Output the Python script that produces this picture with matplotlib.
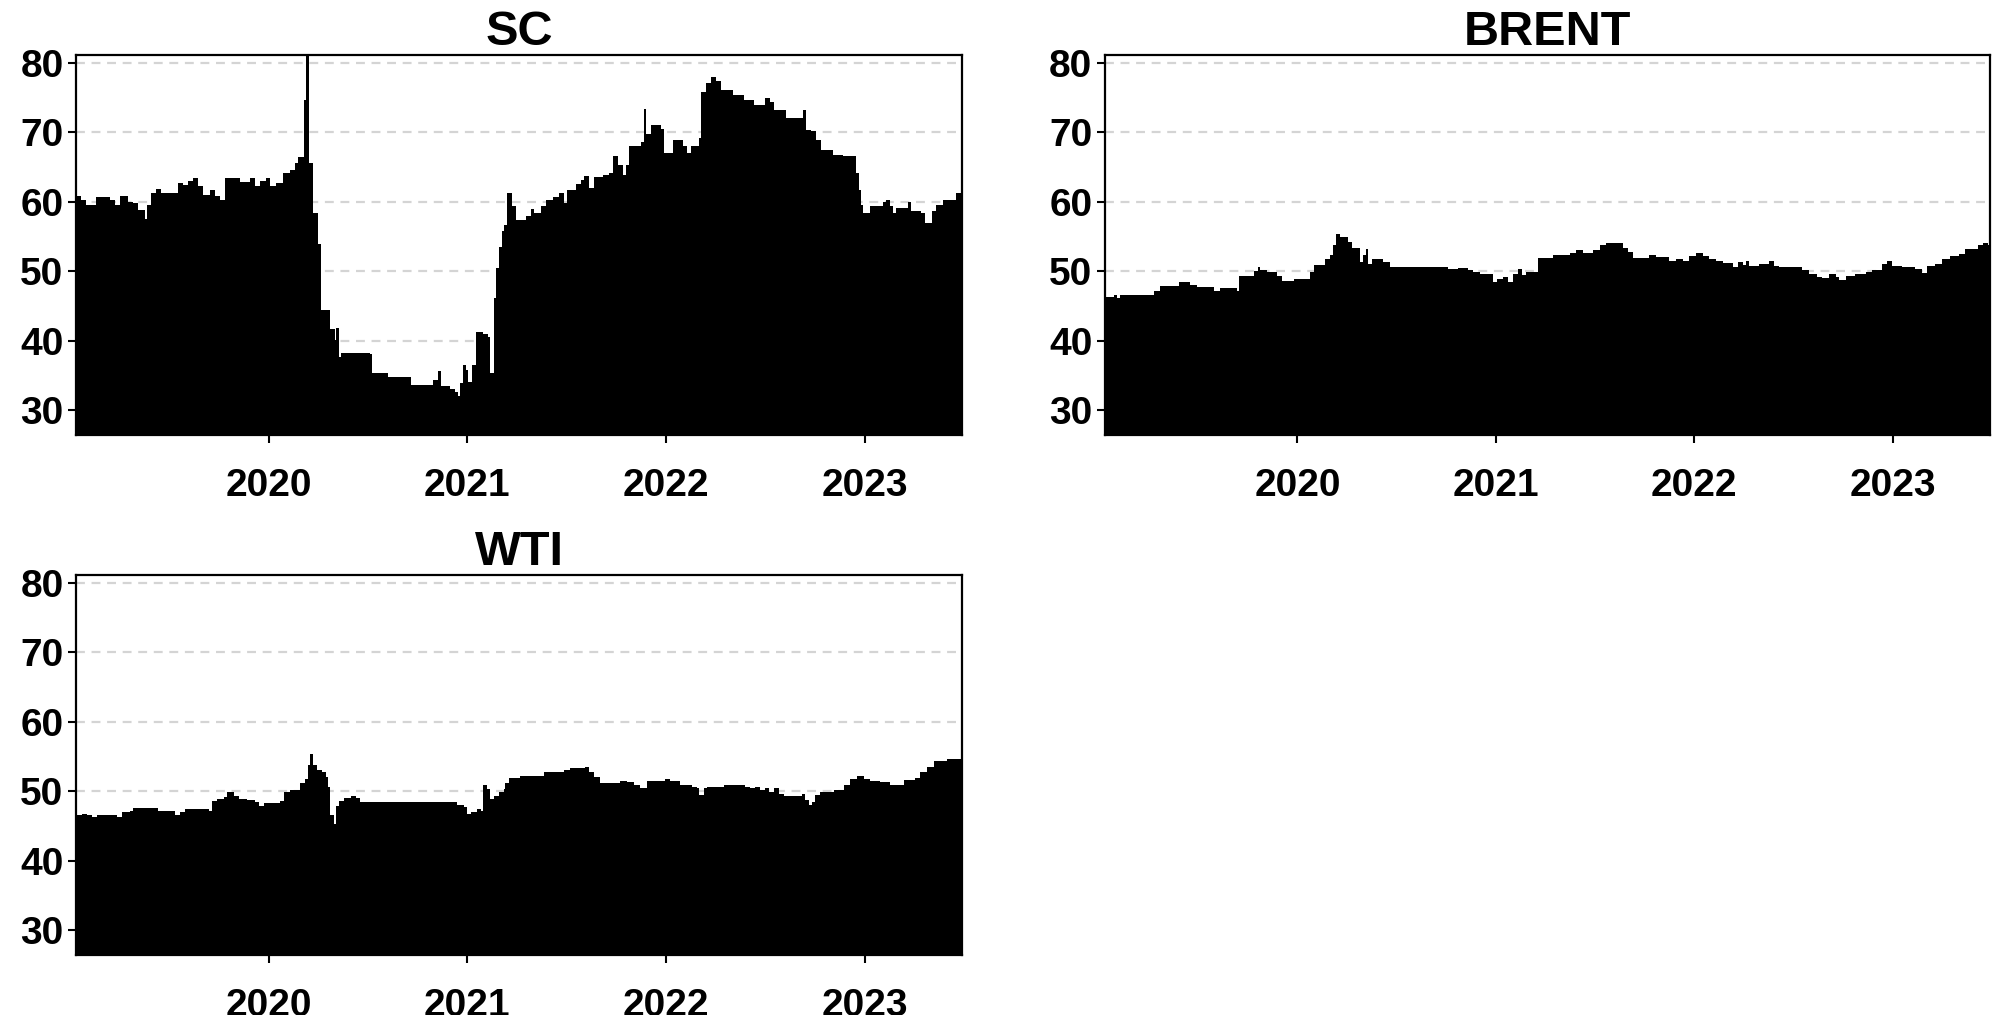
import numpy as np
import matplotlib.pyplot as plt

plt.rcParams['font.family'] = ['Liberation Sans', 'DejaVu Sans']
plt.rcParams['font.weight'] = 'bold'

# decimal year, price
sc_t = [2019.029, 2019.057, 2019.079, 2019.133, 2019.200, 2019.225, 2019.250, 2019.292, 2019.317, 2019.342,
        2019.376, 2019.388, 2019.409, 2019.435, 2019.460, 2019.518, 2019.544, 2019.569, 2019.594, 2019.619,
        2019.644, 2019.669, 2019.703, 2019.728, 2019.753, 2019.779, 2019.854, 2019.888, 2019.904, 2019.930,
        2019.955, 2019.988, 2020.005, 2020.039, 2020.072, 2020.106, 2020.131, 2020.148, 2020.176, 2020.190,
        2020.203, 2020.223, 2020.248, 2020.265, 2020.310, 2020.332, 2020.341, 2020.354, 2020.366, 2020.508,
        2020.522, 2020.601, 2020.718, 2020.827, 2020.852, 2020.869, 2020.911, 2020.936, 2020.953, 2020.965,
        2020.978, 2020.995, 2021.003, 2021.025, 2021.045, 2021.079, 2021.104, 2021.112, 2021.133, 2021.146,
        2021.159, 2021.173, 2021.185, 2021.202, 2021.218, 2021.227, 2021.244, 2021.294, 2021.319, 2021.336,
        2021.370, 2021.395, 2021.429, 2021.462, 2021.487, 2021.504, 2021.546, 2021.571, 2021.588, 2021.613,
        2021.639, 2021.681, 2021.714, 2021.734, 2021.756, 2021.782, 2021.798, 2021.815, 2021.874, 2021.891,
        2021.899, 2021.924, 2021.975, 2021.992, 2022.034, 2022.084, 2022.104, 2022.126, 2022.168, 2022.176,
        2022.202, 2022.227, 2022.252, 2022.277, 2022.336, 2022.395, 2022.445, 2022.496, 2022.521, 2022.546,
        2022.605, 2022.672, 2022.689, 2022.703, 2022.731, 2022.756, 2022.782, 2022.840, 2022.891, 2022.941,
        2022.955, 2022.971, 2022.983, 2022.992, 2023.025, 2023.092, 2023.109, 2023.126, 2023.143, 2023.160,
        2023.218, 2023.235, 2023.286, 2023.303, 2023.341, 2023.361, 2023.395, 2023.462, 2023.490]
sc_v = [60.8, 60.3, 59.5, 60.7, 60.2, 59.5, 60.8, 60.0, 59.8, 58.8,
        57.5, 59.5, 61.2, 61.8, 61.2, 61.3, 62.7, 62.4, 62.9, 63.4,
        62.2, 61.0, 61.6, 60.8, 60.3, 63.4, 62.8, 62.8, 63.4, 62.3,
        62.9, 63.4, 62.2, 62.7, 64.1, 64.6, 65.5, 66.4, 74.6, 82.0,
        65.5, 58.3, 53.9, 44.4, 41.6, 40.1, 41.8, 37.7, 38.2, 38.0,
        35.4, 34.8, 33.6, 34.3, 35.6, 33.4, 33.0, 32.6, 32.0, 33.9,
        36.5, 35.8, 34.1, 36.5, 41.2, 40.9, 40.5, 35.3, 46.1, 50.4,
        53.5, 55.7, 56.7, 61.2, 61.2, 59.3, 57.4, 57.9, 58.9, 58.3,
        59.3, 60.2, 60.7, 61.2, 59.8, 61.7, 62.5, 63.1, 63.7, 61.9,
        63.6, 63.8, 64.1, 66.5, 65.3, 63.8, 65.3, 68.0, 68.6, 73.4,
        69.7, 71.0, 70.5, 67.0, 68.9, 68.0, 67.0, 68.0, 69.1, 75.8,
        77.0, 78.0, 77.3, 76.1, 75.3, 74.6, 73.9, 74.9, 74.4, 73.2,
        72.1, 72.1, 73.2, 70.3, 70.1, 68.9, 67.4, 66.7, 66.5, 66.5,
        64.1, 61.7, 59.5, 58.3, 59.3, 60.0, 60.3, 59.3, 58.3, 59.1,
        60.0, 58.6, 58.3, 56.9, 58.6, 59.5, 60.2, 61.2, 61.4]

brent_t = [2019.032, 2019.074, 2019.091, 2019.107, 2019.275, 2019.309, 2019.401, 2019.460, 2019.493, 2019.577,
           2019.611, 2019.695, 2019.703, 2019.779, 2019.799, 2019.812, 2019.846, 2019.896, 2019.921, 2019.980,
           2020.064, 2020.081, 2020.139, 2020.164, 2020.181, 2020.195, 2020.215, 2020.257, 2020.273, 2020.315,
           2020.332, 2020.346, 2020.357, 2020.374, 2020.433, 2020.466, 2020.760, 2020.810, 2020.861, 2020.886,
           2020.919, 2020.983, 2021.003, 2021.037, 2021.062, 2021.087, 2021.112, 2021.129, 2021.154, 2021.213,
           2021.288, 2021.372, 2021.405, 2021.439, 2021.489, 2021.523, 2021.556, 2021.606, 2021.640, 2021.665,
           2021.690, 2021.774, 2021.807, 2021.874, 2021.908, 2021.941, 2021.975, 2022.008, 2022.042, 2022.075,
           2022.109, 2022.142, 2022.193, 2022.218, 2022.243, 2022.260, 2022.276, 2022.327, 2022.377, 2022.402,
           2022.427, 2022.544, 2022.578, 2022.620, 2022.645, 2022.678, 2022.712, 2022.729, 2022.762, 2022.812,
           2022.863, 2022.896, 2022.946, 2022.972, 2022.997, 2023.047, 2023.114, 2023.147, 2023.173, 2023.214,
           2023.248, 2023.290, 2023.332, 2023.365, 2023.432, 2023.457, 2023.482, 2023.490]
brent_v = [46.2, 46.5, 46.1, 46.6, 47.2, 47.8, 48.4, 48.0, 47.7, 47.2,
           47.5, 47.2, 49.3, 50.0, 50.6, 50.1, 49.8, 49.3, 48.5, 48.8,
           49.9, 50.9, 51.8, 52.3, 53.7, 55.4, 54.9, 54.2, 53.3, 51.3,
           52.3, 53.2, 51.0, 51.8, 51.3, 50.6, 50.3, 50.4, 50.1, 49.9,
           49.6, 48.4, 48.8, 49.1, 48.4, 49.6, 50.3, 49.4, 49.9, 51.9,
           52.3, 52.6, 53.0, 52.6, 53.1, 53.8, 54.1, 54.0, 53.3, 52.8,
           51.9, 52.3, 52.0, 51.5, 51.7, 51.5, 52.1, 52.6, 52.1, 51.7,
           51.5, 51.2, 50.6, 51.3, 50.9, 51.4, 50.8, 51.0, 51.5, 50.8,
           50.6, 50.1, 49.6, 49.1, 49.0, 49.6, 49.1, 48.7, 49.3, 49.6,
           49.9, 50.1, 51.0, 51.5, 50.8, 50.6, 50.3, 49.7, 50.8, 51.0,
           51.7, 52.1, 52.5, 53.2, 53.7, 54.1, 53.7, 53.7]

wti_t = [2019.034, 2019.059, 2019.084, 2019.109, 2019.134, 2019.235, 2019.261, 2019.303, 2019.319, 2019.445,
         2019.529, 2019.555, 2019.580, 2019.622, 2019.697, 2019.714, 2019.739, 2019.773, 2019.790, 2019.824,
         2019.849, 2019.891, 2019.933, 2019.950, 2019.975, 2020.059, 2020.076, 2020.109, 2020.160, 2020.185,
         2020.197, 2020.210, 2020.224, 2020.244, 2020.269, 2020.286, 2020.297, 2020.311, 2020.328, 2020.341,
         2020.353, 2020.378, 2020.412, 2020.437, 2020.462, 2020.924, 2020.950, 2020.983, 2021.000, 2021.017,
         2021.050, 2021.067, 2021.081, 2021.101, 2021.114, 2021.134, 2021.160, 2021.185, 2021.191, 2021.208,
         2021.267, 2021.384, 2021.485, 2021.518, 2021.594, 2021.611, 2021.636, 2021.669, 2021.770, 2021.804,
         2021.837, 2021.871, 2021.904, 2021.997, 2022.022, 2022.072, 2022.131, 2022.156, 2022.164, 2022.190,
         2022.206, 2022.290, 2022.399, 2022.424, 2022.450, 2022.475, 2022.500, 2022.517, 2022.542, 2022.567,
         2022.592, 2022.685, 2022.701, 2022.718, 2022.735, 2022.752, 2022.777, 2022.844, 2022.894, 2022.928,
         2022.961, 2022.995, 2023.029, 2023.079, 2023.129, 2023.180, 2023.196, 2023.255, 2023.280, 2023.314,
         2023.347, 2023.414, 2023.490]
wti_v = [46.5, 46.7, 46.5, 46.2, 46.6, 46.2, 47.0, 47.2, 47.5, 47.1,
         46.6, 47.0, 47.4, 47.4, 47.2, 48.5, 48.8, 49.1, 49.8, 49.3,
         48.8, 48.7, 48.4, 47.9, 48.3, 48.5, 49.9, 50.2, 51.1, 51.8,
         53.7, 55.4, 53.7, 53.0, 52.7, 52.0, 50.6, 46.5, 45.3, 47.9,
         48.5, 49.0, 49.3, 49.0, 48.4, 48.4, 48.0, 47.7, 46.7, 47.0,
         47.4, 47.1, 50.8, 50.3, 48.9, 49.3, 49.9, 50.3, 51.1, 51.9,
         52.2, 52.8, 53.1, 53.3, 53.4, 52.7, 52.0, 51.1, 51.4, 51.3,
         50.8, 50.4, 51.4, 51.8, 51.4, 50.9, 50.6, 50.4, 49.4, 50.4,
         50.6, 50.8, 50.6, 50.4, 50.6, 50.1, 50.4, 49.9, 50.4, 49.6,
         49.3, 49.6, 48.7, 48.0, 48.4, 49.4, 49.8, 50.1, 50.8, 51.7,
         52.2, 51.8, 51.5, 51.3, 50.9, 50.9, 51.6, 51.9, 52.8, 53.5,
         54.3, 54.6, 54.6]

years = [2020, 2021, 2022, 2023]
yticks = [30, 40, 50, 60, 70, 80]

fig = plt.figure(figsize=(20, 10.15), dpi=100)
panels = [('SC', sc_t, sc_v, [0.038, 0.5714, 0.443, 0.3744]),
          ('BRENT', brent_t, brent_v, [0.5525, 0.5714, 0.4425, 0.3744]),
          ('WTI', wti_t, wti_v, [0.038, 0.0591, 0.443, 0.3744])]

for name, t, v, rect in panels:
    ax = fig.add_axes(rect)
    ax.fill_between(t, 0, v, step='post', color='black', linewidth=0, zorder=2)
    ax.set_xlim(2019.03, 2023.49)
    ax.set_ylim(26.4, 81.1)
    ax.set_yticks(yticks)
    ax.set_xticks(years)
    ax.set_xticklabels([str(y) for y in years])
    for yy in yticks:
        ax.axhline(yy, color='#d4d4d4', linewidth=1.6, linestyle=(0, (4, 3)), zorder=1)
    ax.tick_params(axis='both', labelsize=28, width=1.5, length=6, direction='out')
    ax.tick_params(axis='x', pad=18)
    ax.tick_params(axis='y', pad=3)
    for lab in ax.get_xticklabels() + ax.get_yticklabels():
        lab.set_fontweight('bold')
    for sp in ax.spines.values():
        sp.set_linewidth(1.6)
        sp.set_zorder(3)
    ax.set_title(name, fontsize=35, fontweight='bold', pad=7)

plt.savefig('out.png', dpi=100)
plt.close()
